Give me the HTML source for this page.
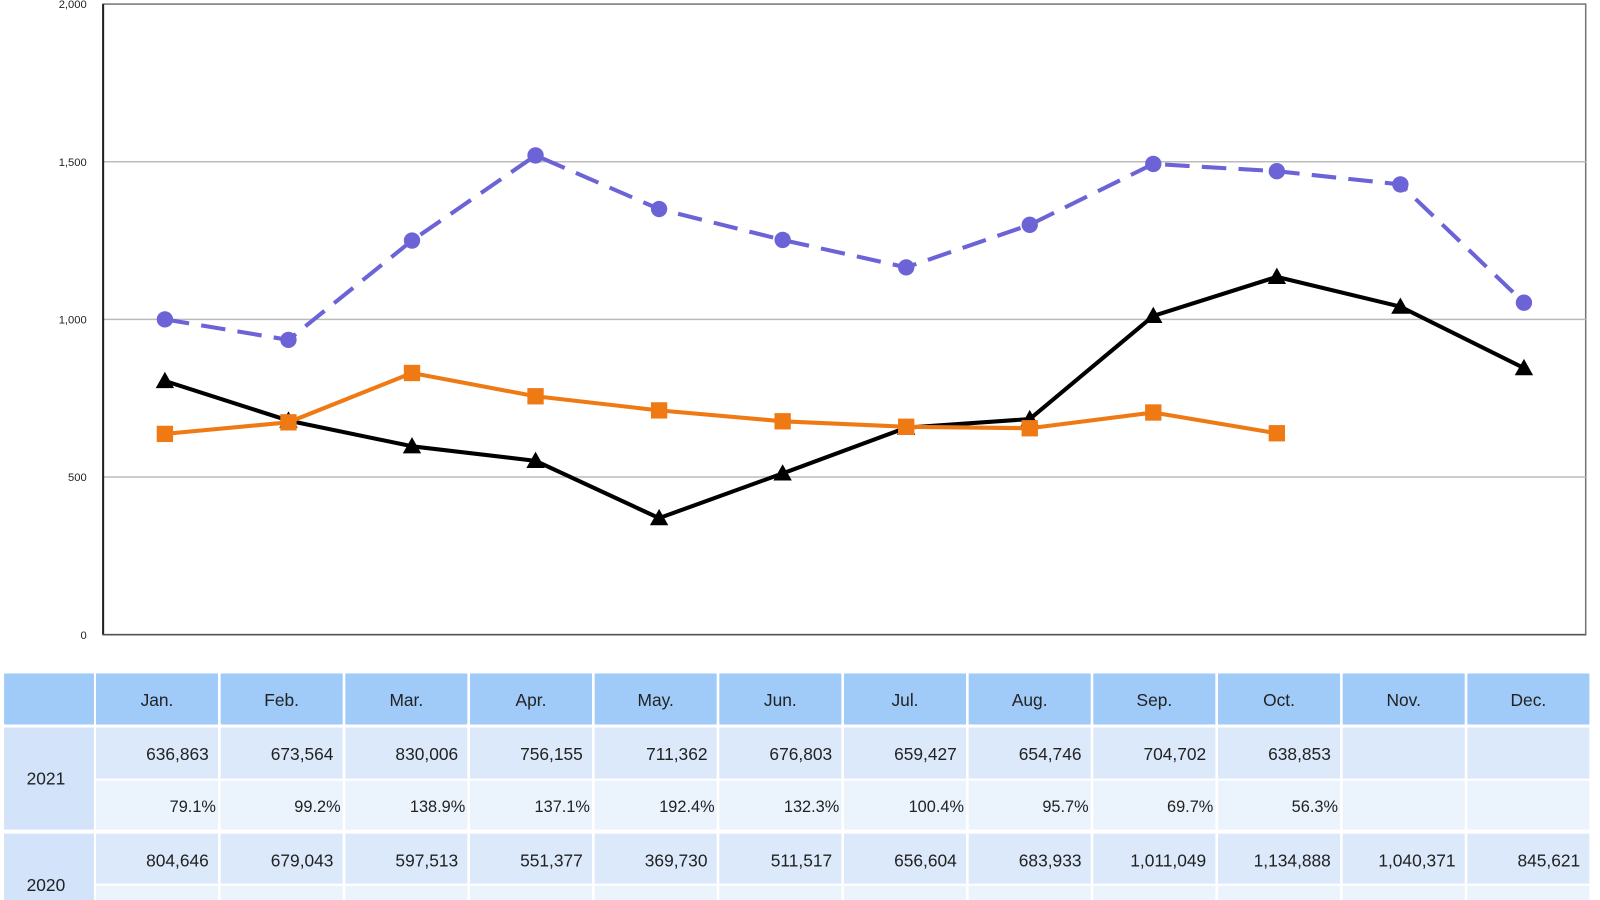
<!DOCTYPE html>
<html><head><meta charset="utf-8"><style>
html,body{margin:0;padding:0;background:#fff;width:1600px;height:900px;overflow:hidden}
svg{display:block}
text{font-family:"Liberation Sans","Noto Sans CJK JP",sans-serif}
</style></head><body>
<svg id="c" width="1600" height="900" viewBox="0 0 1567 882" preserveAspectRatio="none"></svg>
<script>
const months=["Jan.","Feb.","Mar.","Apr.","May.","Jun.","Jul.","Aug.","Sep.","Oct.","Nov.","Dec."];
const yTicks=[0,500,1000,1500,2000];
const yTickLabels=["0","500","1,000","1,500","2,000"];
const s2019=[1000,935,1250,1520,1350,1252,1165,1300,1493,1470,1428,1053];
const s2021=[636.863,673.564,830.006,756.155,711.362,676.803,659.427,654.746,704.702,638.853];
const s2020=[804.646,679.043,597.513,551.377,369.730,511.517,656.604,683.933,1011.049,1134.888,1040.371,845.621];
const t2021v=["636,863","673,564","830,006","756,155","711,362","676,803","659,427","654,746","704,702","638,853","",""];
const t2021p=["79.1%","99.2%","138.9%","137.1%","192.4%","132.3%","100.4%","95.7%","69.7%","56.3%","",""];
const t2020v=["804,646","679,043","597,513","551,377","369,730","511,517","656,604","683,933","1,011,049","1,134,888","1,040,371","845,621"];

const NS="http://www.w3.org/2000/svg";
const svg=document.getElementById('c');
function mk(tag,attrs,parent){const e=document.createElementNS(NS,tag);for(const k in attrs)e.setAttribute(k,attrs[k]);(parent||svg).appendChild(e);return e;}
const L=101,R=1553,T=4,B=622;
const x=i=>L+(R-L)/12*(i+0.5);
const y=v=>B-(B-T)*v/2000;

const plot=mk('rect',{x:L,y:T,width:R-L,height:B-T,fill:'#fff',stroke:'#777','stroke-width':1.5});


yTicks.forEach((v,i)=>{
  if(v>0&&v<2000){const g=mk('line',{x1:L,x2:R,y1:y(v),y2:y(v),stroke:'#bbb','stroke-width':1.5});
  
  }
  const t=mk('text',{x:L-16,y:y(v)+4,'text-anchor':'end','font-size':11,fill:'#222'});
  t.textContent=yTickLabels[i];
  
  
});
const ax=mk('line',{x1:L,x2:L,y1:T,y2:B,stroke:'#222','stroke-width':2});


const bx=mk('line',{x1:L,x2:R,y1:B,y2:B,stroke:'#555','stroke-width':1.5});



function series(data,color,dash,marker,name){
  const pts=data.map((v,i)=>x(i)+','+y(v)).join(' ');
  const pl=mk('polyline',{points:pts,fill:'none',stroke:color,'stroke-width':4,'stroke-dasharray':dash||'none','stroke-linejoin':'round'});
  
  
  data.forEach((v,i)=>{
    let m;
    if(marker==='c')m=mk('circle',{cx:x(i),cy:y(v),r:8,fill:color});
    else if(marker==='s')m=mk('rect',{x:x(i)-8,y:y(v)-8,width:16,height:16,fill:color});
    else m=mk('polygon',{points:`${x(i)},${y(v)-9} ${x(i)-9},${y(v)+7} ${x(i)+9},${y(v)+7}`,fill:color});
    
    
  });
}
series(s2019,'#6b63d6','24 12','c','series-2019');
series(s2020,'#000','', 't','series-2020');
series(s2021,'#ef7a14','', 's','series-2021');

const cols=[[4,92]];
for(let i=0;i<12;i++){const a=94+i*122.1;cols.push([a,a+119.5]);}
const rows=[[660,710],[713,763],[765,813],[817,866],[868,900]];
const hdr='#a0caf8',c1='#d3e3f9',rv='#dce9fb',rp='#ebf3fd';
function cell(x0,y0,x1,y1,fill,name){const r=mk('rect',{x:x0,y:y0,width:x1-x0,height:y1-y0,fill:fill});}
function txt(s,xx,yy,anchor,size,name){const t=mk('text',{x:xx,y:yy,'text-anchor':anchor,'font-size':size,fill:'#222'});t.textContent=s;}
cols.forEach((c,ci)=>{
  cell(c[0],rows[0][0],c[1],rows[0][1],hdr,'table-header-cell');
  if(ci>0)txt(months[ci-1],(c[0]+c[1])/2,692,'middle',17,'month-header');
});
cell(4,713,92,813,c1,'year-cell-2021');
txt('2021',45,769,'middle',17,'year-label-2021');
cell(4,817,92,900,c1,'year-cell-2020');
txt('2020',45,873,'middle',17,'year-label-2020');
for(let i=0;i<12;i++){
  const c=cols[i+1];
  cell(c[0],713,c[1],763,rv,'value-cell-2021');
  cell(c[0],765,c[1],813,rp,'percent-cell-2021');
  cell(c[0],817,c[1],866,rv,'value-cell-2020');
  cell(c[0],868,c[1],900,rp,'percent-cell-2020');
  if(t2021v[i])txt(t2021v[i],c[1]-9,745,'end',17,'value-2021');
  if(t2021p[i])txt(t2021p[i],c[1]-2,796,'end',16,'percent-2021');
  txt(t2020v[i],c[1]-9,849,'end',17,'value-2020');
}
</script>
</body></html>
